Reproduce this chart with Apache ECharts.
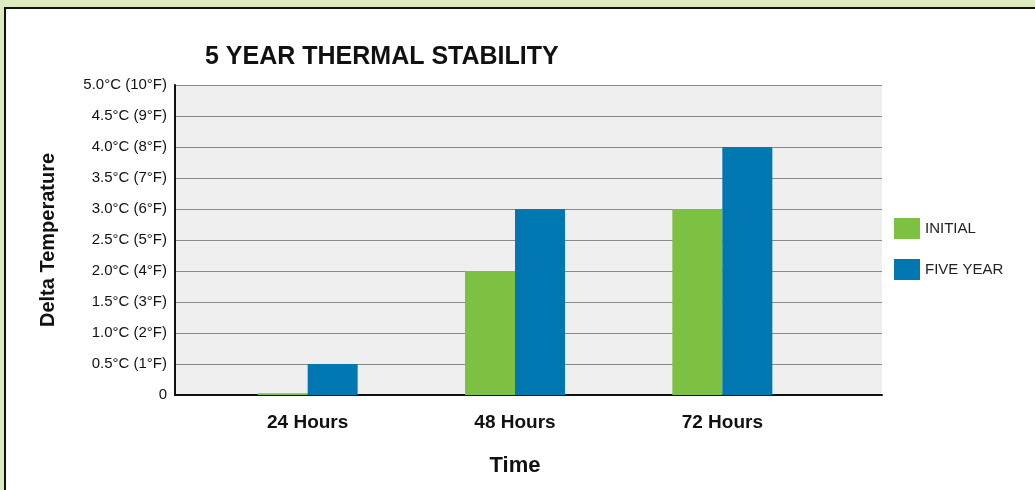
<!DOCTYPE html>
<html lang="en">
<head>
  <meta charset="UTF-8">
  <title>5 Year Thermal Stability</title>
  <style>
    body {
      margin: 0;
      padding: 0;
      background-color: #dcebc0;
      overflow: hidden;
    }
    .panel {
      position: absolute;
      left: 4px;
      top: 7px;
      width: 1100px;
      height: 600px;
      background-color: #fff;
      border-top: 2px solid #111;
      border-left: 2px solid #111;
    }
    #chart {
      position: absolute;
      left: 0;
      top: 0;
      width: 1035px;
      height: 490px;
    }
  </style>
  <script src="https://cdn.jsdelivr.net/npm/echarts@6/dist/echarts.min.js"></script>
</head>
<body>
  <div class="panel"></div>
  <div id="chart"></div>

  <script>
    // data
    var categories = ['24 Hours', '48 Hours', '72 Hours'];
    var initialValues = [0.03, 2.0, 3.0];
    var fiveYearValues = [0.5, 3.0, 4.0];
    var yTickLabels = ['0', '0.5°C (1°F)', '1.0°C (2°F)', '1.5°C (3°F)', '2.0°C (4°F)',
      '2.5°C (5°F)', '3.0°C (6°F)', '3.5°C (7°F)', '4.0°C (8°F)', '4.5°C (9°F)', '5.0°C (10°F)'];

    var font = '"Liberation Sans", Arial, sans-serif';
    var chart = echarts.init(document.getElementById('chart'));

    chart.setOption({
      backgroundColor: 'transparent',
      animation: false,
      title: {
        text: '5 YEAR THERMAL STABILITY',
        left: 200,
        top: 40,
        textStyle: {
          fontFamily: font,
          fontSize: 25,
          fontWeight: 'bold',
          color: '#111'
        }
      },
      legend: {
        orient: 'vertical',
        left: 894,
        top: 218,
        padding: 0,
        itemWidth: 26,
        itemHeight: 21,
        itemGap: 20,
        icon: 'rect',
        data: ['INITIAL', 'FIVE YEAR'],
        textStyle: {
          fontFamily: font,
          fontSize: 15,
          color: '#222',
          padding: [0, 0, 0, 0]
        }
      },
      grid: [
        { left: 175, top: 85, width: 707, height: 310, show: true, backgroundColor: '#efefef', borderWidth: 0 },
        { left: 204, top: 85, width: 622, height: 310 }
      ],
      xAxis: [
        {
          gridIndex: 0,
          type: 'value',
          min: 0,
          max: 1,
          axisLine: { show: true, lineStyle: { color: '#111', width: 2 } },
          axisTick: { show: false },
          axisLabel: { show: false },
          splitLine: { show: false }
        },
        {
          gridIndex: 1,
          type: 'category',
          data: categories,
          axisLine: { show: false },
          axisTick: { show: false },
          axisLabel: {
            margin: 18,
            fontFamily: font,
            fontSize: 19,
            fontWeight: 'bold',
            color: '#111'
          },
          name: 'Time',
          nameLocation: 'middle',
          nameGap: 60,
          nameTextStyle: {
            fontFamily: font,
            fontSize: 22,
            fontWeight: 'bold',
            color: '#111'
          }
        }
      ],
      yAxis: [
        {
          gridIndex: 0,
          type: 'value',
          min: 0,
          max: 5,
          interval: 0.5,
          axisLine: { show: true, lineStyle: { color: '#111', width: 2 } },
          axisTick: { show: false },
          axisLabel: {
            margin: 8,
            fontFamily: font,
            fontSize: 15,
            color: '#111',
            formatter: function (v) {
              return yTickLabels[Math.round(v / 0.5)];
            }
          },
          splitLine: { show: true, lineStyle: { color: '#8a8a8a', width: 1.2 } },
          name: 'Delta Temperature',
          nameLocation: 'middle',
          nameRotate: 90,
          nameGap: 117,
          nameTextStyle: {
            fontFamily: font,
            fontSize: 20,
            fontWeight: 'bold',
            color: '#111'
          }
        },
        {
          gridIndex: 1,
          type: 'value',
          min: 0,
          max: 5,
          show: false
        }
      ],
      series: [
        {
          name: 'INITIAL',
          type: 'bar',
          xAxisIndex: 1,
          yAxisIndex: 1,
          barWidth: 50,
          barGap: '0%',
          itemStyle: { color: '#7dc142' },
          data: initialValues
        },
        {
          name: 'FIVE YEAR',
          type: 'bar',
          xAxisIndex: 1,
          yAxisIndex: 1,
          barWidth: 50,
          barGap: '0%',
          itemStyle: { color: '#0077b0' },
          data: fiveYearValues
        }
      ]
    });

    window.addEventListener('resize', function () {
      chart.resize();
    });
  </script>
</body>
</html>
